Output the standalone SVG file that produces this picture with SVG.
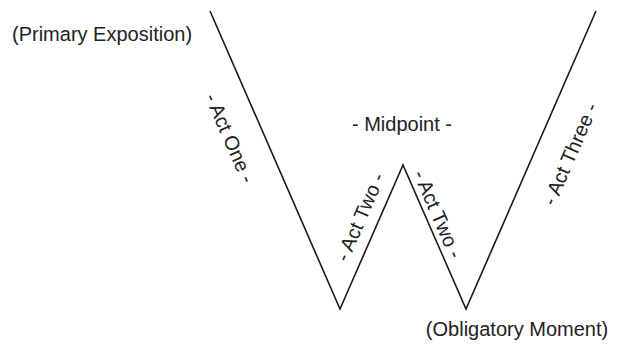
<svg xmlns="http://www.w3.org/2000/svg" width="618" height="345" viewBox="0 0 618 345">
<style>
.t{font-family:"Liberation Sans",Arial,sans-serif;font-size:20px;fill:#222}
.m{text-anchor:middle}
.ln{fill:none;stroke:#1a1a1a;stroke-width:1.6;stroke-linejoin:miter}
</style>
<rect width="618" height="345" fill="#fff"/>
<g id="connectors">
<polyline class="ln" points="210,11 340,309 403,165 466,309 596,11"/>
</g>
<g id="primary-exposition"><text class="t" x="12" y="41">(Primary Exposition)</text></g>
<g id="midpoint"><text class="t m" x="402" y="131">- Midpoint -</text></g>
<g id="obligatory-moment"><text class="t m" x="517" y="336">(Obligatory Moment)</text></g>
<g id="act-one"><text class="t m" transform="translate(230,138) rotate(66.43)" x="0" y="7">- Act One -</text></g>
<g id="act-two-a"><text class="t m" transform="translate(360,217) rotate(-66.43)" x="0" y="7">- Act Two -</text></g>
<g id="act-two-b"><text class="t m" transform="translate(438,214) rotate(66.43)" x="0" y="7">- Act Two -</text></g>
<g id="act-three"><text class="t m" transform="translate(570,154) rotate(-66.43)" x="0" y="7">- Act Three -</text></g>
</svg>
